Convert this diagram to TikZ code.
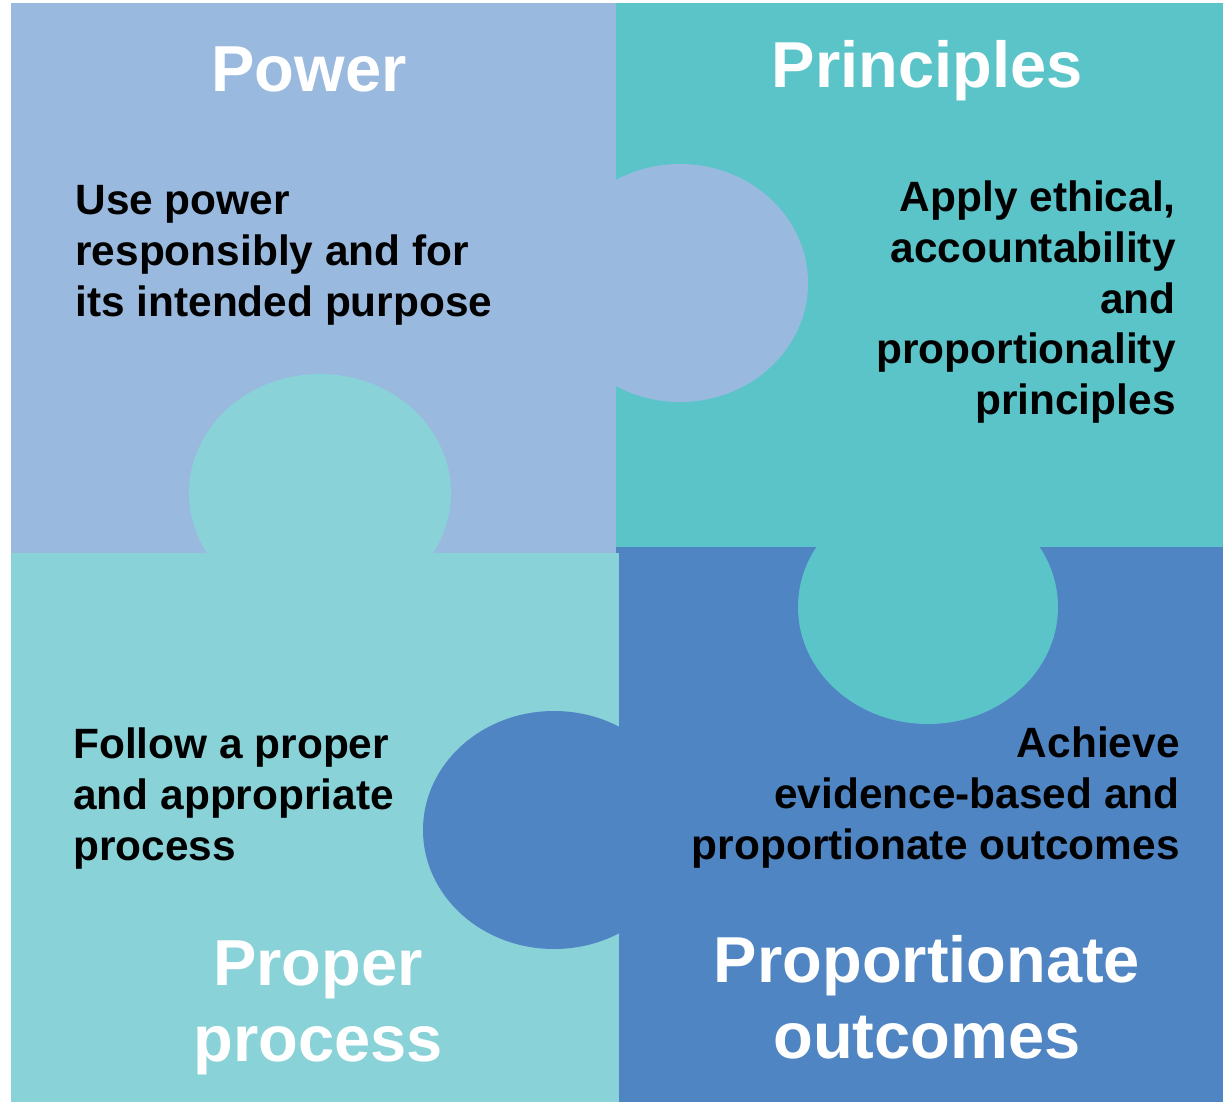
\documentclass[tikz,border=0pt]{standalone}
\usepackage{fontspec}
\setmainfont{Liberation Sans}
\definecolor{powerblue}{HTML}{99B9DE}
\definecolor{principlesteal}{HTML}{5BC4C9}
\definecolor{processteal}{HTML}{89D2D8}
\definecolor{outcomesblue}{HTML}{5085C3}

\begin{document}
\begin{tikzpicture}[x=0.5pt, y=-0.5pt,
	title/.style={text=white, inner sep=0, align=center, font=\bfseries\fontsize{32.5}{38}\selectfont},
	body/.style={text=black, inner sep=0, font=\bfseries\fontsize{21.2}{25.5}\selectfont}]
			%%%%% START %%%%%
			
			\useasboundingbox[fill=white] (0, 0) rectangle (1223, 1102);
			
			\fill[powerblue] (11, 3) rectangle (617, 553);
			\fill[principlesteal] (616, 3) rectangle (1223, 547);
			\fill[outcomesblue] (616, 547) rectangle (1223, 1102);
			\fill[processteal] (11, 553) rectangle (619, 1102);
			
			\fill[powerblue] (680, 283) ellipse [x radius=128, y radius=119];
			\fill[processteal] (320, 493) ellipse [x radius=131, y radius=119];
			\fill[principlesteal] (928, 607) ellipse [x radius=130, y radius=117];
			\fill[outcomesblue] (554, 830) ellipse [x radius=131, y radius=119];
			
			\node[title, anchor=base] (power) at (309, 92) {Power};
			\node[title, anchor=base] (principles) at (927, 88) {Principles};
			\node[title, anchor=base] (process) at (318, 1061) {Proper\\process};
			\node[title, anchor=base] (outcomes) at (927, 1058) {Proportionate\\outcomes};
			
			\node[body, anchor=base west, align=left] (powertext) at (75, 316) {Use power\\responsibly and for\\its intended purpose};
			\node[body, anchor=base east, align=right] (principlestext) at (1176, 415) {Apply ethical,\\accountability\\and\\proportionality\\principles};
			\node[body, anchor=base west, align=left] (processtext) at (73, 860) {Follow a proper\\and appropriate\\process};
			\node[body, anchor=base east, align=right] (outcomestext) at (1180, 859) {Achieve\\evidence-based and\\proportionate outcomes};
			
			%%%%% END %%%%%
\end{tikzpicture}
\end{document}
